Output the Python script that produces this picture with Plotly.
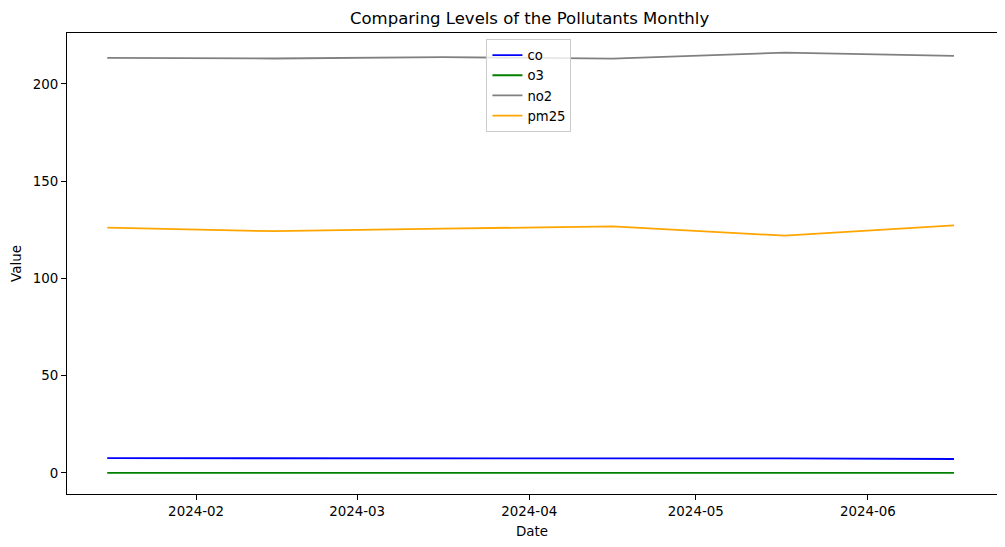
import plotly.graph_objects as go

dates = ["2024-01-16", "2024-02-15", "2024-03-16 12:00", "2024-04-16", "2024-05-17", "2024-06-16 12:00"]
co = [7.6, 7.6, 7.7, 7.7, 7.5, 7.2]
o3 = [0.04, 0.04, 0.04, 0.04, 0.04, 0.04]
no2 = [213.4, 213.1, 213.8, 213.0, 216.1, 214.4]
pm25 = [126.1, 124.3, 125.6, 126.8, 122.0, 127.3]

series = [("co", co, "blue"), ("o3", o3, "green"), ("no2", no2, "gray"), ("pm25", pm25, "orange")]

fig = go.Figure()
for name, vals, color in series:
    fig.add_trace(go.Scatter(x=dates, y=vals, mode="lines", name=name,
                             line=dict(color=color, width=1.8)))

font = "DejaVu Sans, sans-serif"
fig.update_layout(
    width=1005, height=547,
    margin=dict(l=59, r=16, t=25, b=61),
    paper_bgcolor="white", plot_bgcolor="white",
    font=dict(family=font, size=13.4, color="black"),
    title=dict(text="Comparing Levels of the Pollutants Monthly", x=0.519, xanchor="center",
               y=0.982, yanchor="middle", font=dict(size=16.5, family=font, color="black")),
    legend=dict(x=0.451, y=0.987, xanchor="left", yanchor="top",
                bgcolor="rgba(255,255,255,0.8)", bordercolor="#cccccc", borderwidth=1,
                font=dict(size=13.2, family=font), itemwidth=30, tracegroupgap=0),
    showlegend=True,
)
fig.update_xaxes(
    range=["2024-01-08 18:00", "2024-06-24 06:00"],
    tickvals=["2024-02-01", "2024-03-01", "2024-04-01", "2024-05-01", "2024-06-01"],
    ticktext=["2024-02", "2024-03", "2024-04", "2024-05", "2024-06"],
    showline=True, linecolor="black", linewidth=1, mirror=True,
    ticks="outside", ticklen=5, tickcolor="black", showgrid=False, zeroline=False,
    title=dict(text="Date", font=dict(size=13.4, family=font), standoff=8),
    tickfont=dict(size=13.4, family=font), automargin=False,
)
fig.update_yaxes(
    range=[-10.8, 226.2],
    tickvals=[0, 50, 100, 150, 200],
    showline=True, linecolor="black", linewidth=1, mirror=True,
    ticks="outside", ticklen=5, tickcolor="black", showgrid=False, zeroline=False,
    title=dict(text="Value", font=dict(size=13.4, family=font), standoff=8),
    tickfont=dict(size=13.4, family=font), automargin=False,
)
fig.write_html("out.html")
